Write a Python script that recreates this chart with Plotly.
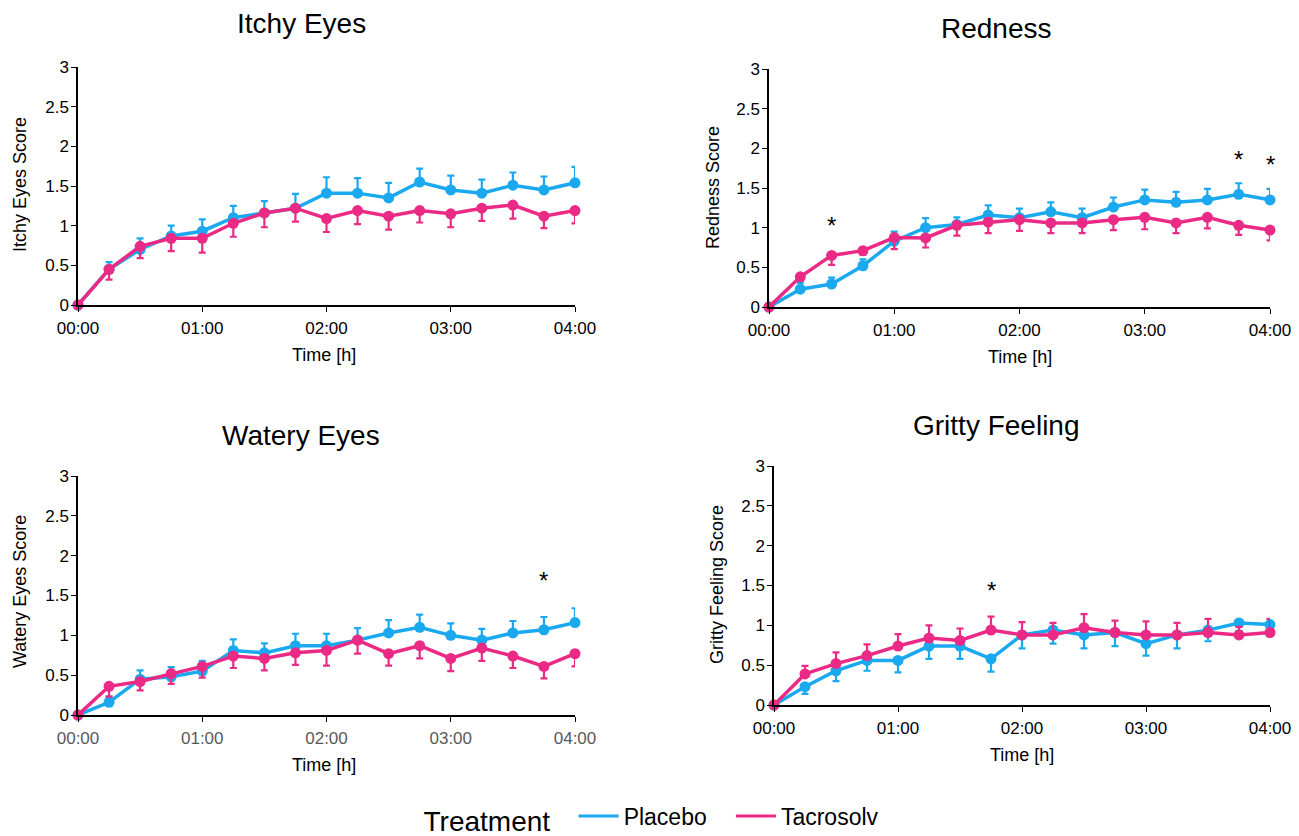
import plotly.graph_objects as go

# ---------------- data ----------------
time_labels = ["00:00", "00:15", "00:30", "00:45", "01:00", "01:15", "01:30", "01:45", "02:00",
               "02:15", "02:30", "02:45", "03:00", "03:15", "03:30", "03:45", "04:00"]
hour_ticks = ["00:00", "01:00", "02:00", "03:00", "04:00"]

itchy_placebo = [0, 0.45, 0.70, 0.87, 0.93, 1.10, 1.16, 1.22, 1.41, 1.41, 1.35, 1.55, 1.45, 1.41, 1.51, 1.45, 1.54]
itchy_placebo_err = [0, 0.09, 0.14, 0.13, 0.15, 0.15, 0.15, 0.18, 0.20, 0.19, 0.19, 0.17, 0.18, 0.17, 0.16, 0.17, 0.20]
itchy_tacro = [0, 0.45, 0.74, 0.84, 0.84, 1.03, 1.16, 1.22, 1.09, 1.19, 1.12, 1.19, 1.15, 1.22, 1.26, 1.12, 1.19]
itchy_tacro_err = [0, 0.13, 0.15, 0.16, 0.18, 0.17, 0.18, 0.17, 0.17, 0.17, 0.17, 0.15, 0.17, 0.16, 0.17, 0.15, 0.16]

red_placebo = [0, 0.225, 0.29, 0.52, 0.83, 1.00, 1.04, 1.16, 1.125, 1.20, 1.125, 1.26, 1.35, 1.32, 1.35, 1.42, 1.35]
red_placebo_err = [0, 0.075, 0.08, 0.08, 0.12, 0.12, 0.09, 0.12, 0.115, 0.12, 0.115, 0.12, 0.13, 0.13, 0.14, 0.14, 0.14]
red_tacro = [0, 0.38, 0.65, 0.71, 0.875, 0.87, 1.03, 1.07, 1.10, 1.06, 1.06, 1.10, 1.13, 1.06, 1.13, 1.03, 0.97]
red_tacro_err = [0, 0.05, 0.12, 0.05, 0.145, 0.12, 0.13, 0.14, 0.14, 0.13, 0.13, 0.13, 0.15, 0.13, 0.14, 0.12, 0.13]

wat_placebo = [0, 0.16, 0.45, 0.48, 0.55, 0.81, 0.78, 0.87, 0.87, 0.94, 1.03, 1.10, 1.00, 0.94, 1.03, 1.07, 1.16]
wat_placebo_err = [0, 0.07, 0.11, 0.12, 0.13, 0.14, 0.12, 0.15, 0.15, 0.15, 0.16, 0.16, 0.15, 0.14, 0.15, 0.16, 0.18]
wat_tacro = [0, 0.36, 0.42, 0.52, 0.61, 0.74, 0.71, 0.78, 0.81, 0.94, 0.77, 0.87, 0.71, 0.84, 0.74, 0.61, 0.77]
wat_tacro_err = [0, 0.13, 0.11, 0.13, 0.14, 0.15, 0.15, 0.15, 0.19, 0.17, 0.15, 0.16, 0.16, 0.16, 0.15, 0.15, 0.16]

grit_placebo = [0, 0.23, 0.43, 0.56, 0.56, 0.74, 0.74, 0.58, 0.88, 0.94, 0.88, 0.91, 0.77, 0.88, 0.94, 1.03, 1.01]
grit_placebo_err = [0, 0.09, 0.13, 0.13, 0.15, 0.16, 0.16, 0.16, 0.17, 0.17, 0.17, 0.17, 0.15, 0.17, 0.14, 0.10, 0.15]
grit_tacro = [0, 0.39, 0.52, 0.62, 0.74, 0.84, 0.81, 0.94, 0.88, 0.88, 0.97, 0.91, 0.88, 0.88, 0.91, 0.88, 0.91]
grit_tacro_err = [0, 0.10, 0.14, 0.14, 0.15, 0.16, 0.15, 0.17, 0.16, 0.15, 0.17, 0.15, 0.17, 0.15, 0.17, 0.10, 0.17]

# significance markers: (time, score level)
red_stars = [("00:30", 1.07), ("03:45", 1.90), ("04:00", 1.84)]
wat_stars = [("03:45", 1.73)]
grit_stars = [("01:45", 1.48)]

panel_titles = ["Itchy Eyes", "Redness", "Watery Eyes", "Gritty Feeling"]
y_titles = ["Itchy Eyes Score", "Redness Score", "Watery Eyes Score", "Gritty Feeling Score"]
x_title = "Time [h]"
legend_title = "Treatment"
series_names = ["Placebo", "Tacrosolv"]

# ---------------- styling ----------------
W, H = 1299, 836
OFF = 8  # page body margin
BLUE = "#1AA9EF"
PINK = "#EB2A86"
FONT = "Liberation Sans, Arial, sans-serif"


def hours(label):
    h, m = label.split(":")
    return int(h) + int(m) / 60.0


def px(v):
    return (v - OFF) / W


def py(v):
    return 1 - (v - OFF) / H


x = [hours(t) for t in time_labels]
tick_vals = [hours(t) for t in hour_ticks]

# page-pixel boxes of plot areas (left, right, bottom, top)
boxes = [(78, 575, 305, 67), (769, 1270, 307, 69), (78, 575, 715, 476), (774, 1270, 705, 466)]
title_pos = [(301, 24), (996, 28), (301, 435), (996, 425)]
xtitle_pos = [(324, 355), (1020, 357), (324, 765), (1022, 755)]
ytitle_pos = [(20, 185), (713, 188), (20, 592), (717, 585)]

panels = [
    (itchy_placebo, itchy_placebo_err, itchy_tacro, itchy_tacro_err, "up", []),
    (red_placebo, red_placebo_err, red_tacro, red_tacro_err, "up", red_stars),
    (wat_placebo, wat_placebo_err, wat_tacro, wat_tacro_err, "up", wat_stars),
    (grit_placebo, grit_placebo_err, grit_tacro, grit_tacro_err, "down", grit_stars),
]

fig = go.Figure()
annotations = []
layout_axes = {}

for i, (pv, pe, tv, te, pdir, stars) in enumerate(panels):
    k = "" if i == 0 else str(i + 1)
    xa, ya = "x" + k, "y" + k
    zeros = [0] * len(pe)
    if pdir == "up":
        p_err = dict(type="data", symmetric=False, array=pe, arrayminus=zeros)
        t_err = dict(type="data", symmetric=False, array=zeros, arrayminus=te)
    else:
        p_err = dict(type="data", symmetric=False, array=zeros, arrayminus=pe)
        t_err = dict(type="data", symmetric=False, array=te, arrayminus=zeros)
    for vals, err, col, name in [(pv, p_err, BLUE, series_names[0]), (tv, t_err, PINK, series_names[1])]:
        err.update(color=col, thickness=2.2, width=3.5)
        fig.add_trace(go.Scatter(
            x=x, y=vals, mode="lines+markers", name=name, showlegend=False,
            line=dict(color=col, width=3.5), marker=dict(color=col, size=11),
            error_y=err, cliponaxis=False, xaxis=xa, yaxis=ya))

    l, r, b, t = boxes[i]
    tick_color = "#595959" if i == 2 else "#000000"
    layout_axes["xaxis" + k] = dict(
        domain=[px(l), px(r)], anchor=ya, range=[0, 4], tickmode="array",
        tickvals=tick_vals, ticktext=hour_ticks, ticks="outside", ticklen=5,
        tickcolor="black", showline=True, linecolor="black", linewidth=1.5,
        showgrid=False, zeroline=False, automargin=False, ticklabelstandoff=2,
        tickfont=dict(size=17, color=tick_color, family=FONT))
    layout_axes["yaxis" + k] = dict(
        domain=[py(b), py(t)], anchor=xa, range=[0, 3], dtick=0.5,
        ticks="outside", ticklen=5, tickcolor="black", showline=True, linecolor="black",
        linewidth=1.5, showgrid=False, zeroline=False, automargin=False, ticklabelstandoff=-1,
        tickfont=dict(size=17, color="black", family=FONT))

    tx, ty = title_pos[i]
    annotations.append(dict(text=panel_titles[i], x=px(tx), y=py(ty), xref="paper", yref="paper",
                            xanchor="center", yanchor="middle", showarrow=False,
                            font=dict(size=28, color="black", family=FONT)))
    ax_, ay_ = xtitle_pos[i]
    annotations.append(dict(text=x_title, x=px(ax_), y=py(ay_), xref="paper", yref="paper",
                            xanchor="center", yanchor="middle", showarrow=False,
                            font=dict(size=18, color="black", family=FONT)))
    bx_, by_ = ytitle_pos[i]
    annotations.append(dict(text=y_titles[i], x=px(bx_), y=py(by_), xref="paper", yref="paper",
                            xanchor="center", yanchor="middle", showarrow=False, textangle=-90,
                            font=dict(size=18, color="black", family=FONT)))
    for (st, sv) in stars:
        annotations.append(dict(text="*", x=hours(st), y=sv, xref=xa, yref=ya, xanchor="center",
                                yanchor="middle", yshift=-3, showarrow=False,
                                font=dict(size=24, color="black", family=FONT)))

# legend-only traces (plain line samples)
for name, col in [(series_names[0], BLUE), (series_names[1], PINK)]:
    fig.add_trace(go.Scatter(x=[None], y=[None], mode="lines", name=name + "&nbsp;&nbsp;&nbsp;",
                             line=dict(color=col, width=3), showlegend=True))

fig.update_layout(
    width=W, height=H, margin=dict(l=0, r=0, t=0, b=0, autoexpand=False),
    paper_bgcolor="white", plot_bgcolor="white",
    font=dict(family=FONT, color="black"),
    annotations=annotations,
    legend=dict(orientation="h", x=px(662), xanchor="center", y=py(818), yanchor="middle",
                title=dict(text=legend_title + "&nbsp;&nbsp;", side="left", font=dict(size=28, family=FONT)),
                font=dict(size=23, family=FONT), itemwidth=40, tracegroupgap=0),
    **layout_axes,
)

fig.write_html("out.html")
